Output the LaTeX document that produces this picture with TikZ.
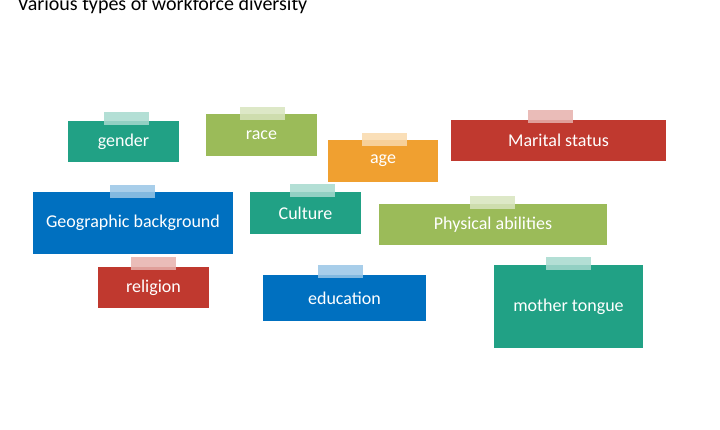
\documentclass[tikz,border=0pt]{standalone}
\usepackage{fontspec}
\setmainfont{Carlito}
\definecolor{noteteal}{HTML}{21A185}
\definecolor{notegreen}{HTML}{9BBB59}
\definecolor{noteorange}{HTML}{F0A030}
\definecolor{notered}{HTML}{C0392F}
\definecolor{noteblue}{HTML}{0070C0}
\tikzset{
	note/.style={fill=#1, text=white, font=\fontsize{18}{21}\selectfont, inner sep=0pt},
	tape/.style={fill=#1!40!white, opacity=0.85, minimum width=45pt, minimum height=13pt, inner sep=0pt}
}
\begin{document}
\begin{tikzpicture}[x=1pt, y=-1pt]
	\useasboundingbox (0,0) rectangle (720,430);
	
	%Titel
	\node[anchor=west, font=\fontsize{20}{23}\selectfont] (title) at (14,5) {Various types of workforce diversity};
	
	%Zettel: Name/Mitte/Breite/Hoehe/Farbe/Text/Klebestreifen
	\foreach \n/\cx/\cy/\w/\h/\c/\t/\tx/\ty in {
		gender/123.5/141.5/111/41/noteteal/gender/126/119,
		race/261.5/135/111/42/notegreen/race/262.5/113.5,
		age/383/161/110/42/noteorange/age/384.5/139.5,
		marital/558.5/140.5/215/41/notered/Marital status/550.5/117,
		geo/133/223/200/62/noteblue/Geographic background/132.5/192,
		culture/305.5/213/111/42/noteteal/Culture/312/190.5,
		physical/493/224.5/228/41/notegreen/Physical abilities/492.5/203,
		religion/153.5/287.5/111/41/notered/religion/153.5/264,
		education/344.5/298/163/46/noteblue/education/340.5/272,
		tongue/568.5/306.5/149/83/noteteal/mother tongue/568.5/264}
	{
		\node[note=\c, minimum width=\w pt, minimum height=\h pt] (\n) at (\cx,\cy) {\t};
		\node[tape=\c] (\n-tape) at (\tx,\ty) {};
	}
\end{tikzpicture}
\end{document}
